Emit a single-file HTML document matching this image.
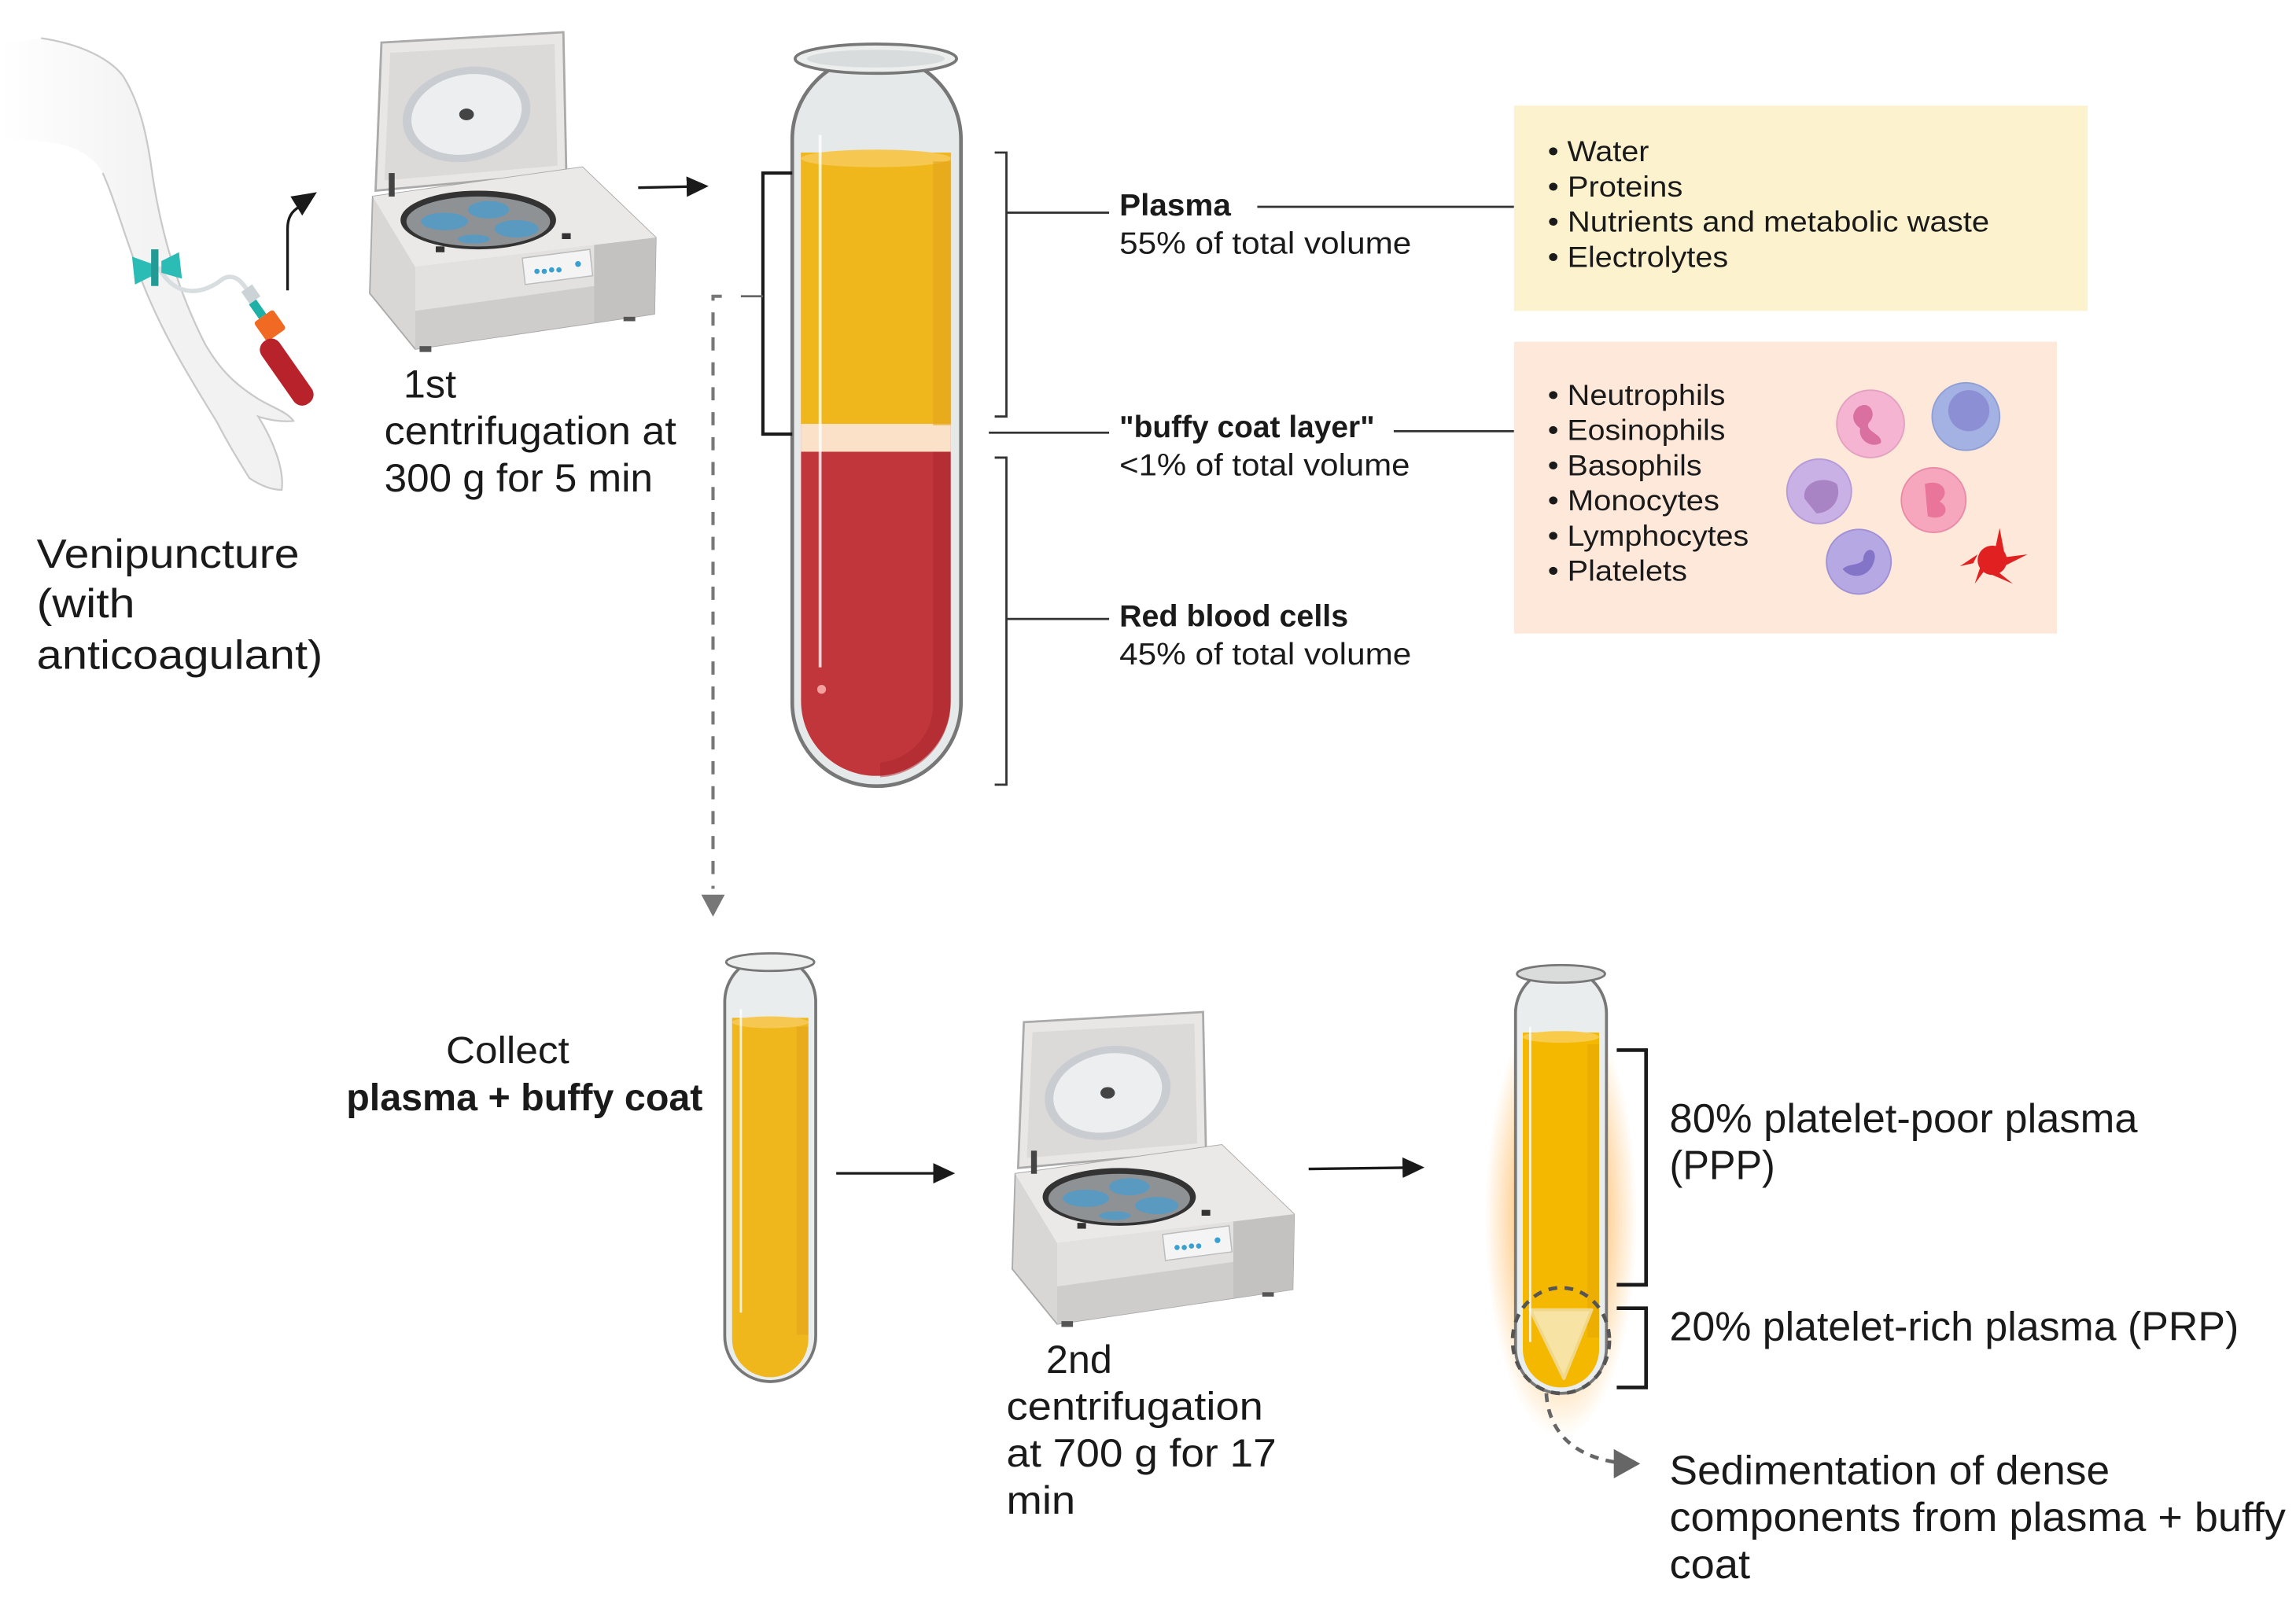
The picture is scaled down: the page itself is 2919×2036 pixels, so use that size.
<!DOCTYPE html>
<html><head><meta charset="utf-8"><style>
html,body{margin:0;padding:0;background:#fff;}
svg{display:block;}
text{font-family:"Liberation Sans",Arial,sans-serif;fill:#1a1a1a;}
</style></head><body>
<svg width="2919" height="2036" viewBox="0 0 1565 1091.6" xmlns="http://www.w3.org/2000/svg">
<defs>
<linearGradient id="armfade" x1="0" x2="1" y1="0" y2="0">
<stop offset="0" stop-color="#fff"/><stop offset="0.5" stop-color="#f3f3f3"/><stop offset="1" stop-color="#f1f1f1"/></linearGradient>
<radialGradient id="glow" cx="0.5" cy="0.5" r="0.5">
<stop offset="0.55" stop-color="#ffa940" stop-opacity="0.6"/><stop offset="1" stop-color="#ffb347" stop-opacity="0"/></radialGradient>
<marker id="ah" markerWidth="16" markerHeight="14" refX="12" refY="7" orient="auto" markerUnits="userSpaceOnUse">
<path d="M0,0 L15,7 L0,14 z" fill="#1a1a1a"/></marker>
<marker id="ahg" markerWidth="20" markerHeight="20" refX="16" refY="10" orient="auto" markerUnits="userSpaceOnUse">
<path d="M0,0 L18,10 L0,20 z" fill="#666"/></marker>

<g id="cent">
 <polygon points="260,29 384,22 386,118 256,130" fill="#e9e7e6" stroke="#aaa" stroke-width="1.5"/>
 <polygon points="266,36 378,30 380,113 262,123" fill="#dcdad8"/>
 <ellipse cx="318" cy="78" rx="44" ry="32" transform="rotate(-12 318 78)" fill="#c9ccd0"/>
 <ellipse cx="318" cy="78" rx="38" ry="27" transform="rotate(-12 318 78)" fill="#eceef0"/>
 <ellipse cx="318" cy="78" rx="5" ry="4" fill="#444"/>
 <polygon points="254,134 397,114 447,162 446,214 283,238 252,200" fill="#d9d7d6" stroke="#aaa" stroke-width="1"/>
 <polygon points="254,134 397,114 447,162 283,182" fill="#ebe9e8"/>
 <polygon points="283,182 447,162 446,214 283,238" fill="#cfcdcc"/>
 <polygon points="283,182 405,167 405,195 283,212" fill="#e3e1e0"/>
 <polygon points="405,167 447,162 446,214 405,220" fill="#c4c2c1"/>
 <ellipse cx="326" cy="150" rx="53" ry="20" fill="#333"/>
 <ellipse cx="326" cy="151" rx="49" ry="17" fill="#8f9294"/>
 <ellipse cx="303" cy="151" rx="16" ry="6" fill="#5b9ac0"/>
 <ellipse cx="333" cy="143" rx="14" ry="6" fill="#5b9ac0"/>
 <ellipse cx="352" cy="156" rx="15" ry="6" fill="#5b9ac0"/>
 <ellipse cx="323" cy="163" rx="11" ry="3" fill="#5b9ac0"/>
 <polygon points="356,176 402,170 404,188 358,194" fill="#f4f4f4" stroke="#bbb" stroke-width="0.8"/>
 <circle cx="366" cy="185" r="1.8" fill="#3aa0d0"/><circle cx="371" cy="185" r="1.8" fill="#3aa0d0"/><circle cx="376" cy="184" r="1.8" fill="#3aa0d0"/><circle cx="381" cy="184" r="1.8" fill="#3aa0d0"/><circle cx="394" cy="180" r="2" fill="#3aa0d0"/>
 <rect x="297" y="168" width="6" height="4" fill="#333"/><rect x="383" y="159" width="6" height="4" fill="#333"/>
 <rect x="265" y="118" width="4" height="16" fill="#444"/>
 <rect x="286" y="236" width="8" height="4" fill="#555"/><rect x="425" y="216" width="8" height="3" fill="#555"/>
</g>
</defs>

<!-- Arm -->
<path d="M0,30 L28,26 C55,30 75,40 84,52 C95,70 100,90 104,120 C110,160 122,200 140,235 C150,252 160,262 176,272 C186,278 196,281 200,287 C192,288 182,286 176,284 C186,300 194,320 192,334 C184,334 176,330 170,326 C160,310 152,296 148,288 C132,262 112,230 98,195 C86,165 78,135 70,118 C60,100 40,95 0,95 Z" fill="url(#armfade)"/>
<path d="M28,26 C55,30 75,40 84,52 C95,70 100,90 104,120 C110,160 122,200 140,235 C150,252 160,262 176,272 C186,278 196,281 200,287 C192,288 182,286 176,284 C186,300 194,320 192,334 C184,334 176,330 170,326 C160,310 152,296 148,288 C132,262 112,230 98,195 C86,165 78,135 70,118" fill="none" stroke="#c9c9c9" stroke-width="1.2"/>
<path d="M108,182 C120,205 140,200 152,190 C160,186 165,192 170,200" fill="none" stroke="#d8dde0" stroke-width="3"/>
<polygon points="90,175 104,180 104,188 92,194" fill="#2bbdb5"/>
<polygon points="110,178 122,172 124,190 110,186" fill="#2bbdb5"/>
<rect x="103" y="170" width="5" height="25" fill="#239a95"/>
<rect x="166" y="196" width="9" height="10" fill="#ccd3d6" transform="rotate(-35 170 200)"/>
<rect x="172" y="205" width="6" height="12" fill="#1fb1a8" transform="rotate(-35 175 210)"/>
<rect x="176" y="214" width="16" height="16" rx="2" fill="#f06a24" transform="rotate(-35 184 222)"/>
<rect x="188" y="228" width="15" height="52" rx="7" fill="#b8232b" transform="rotate(-35 195 254)"/>
<path d="M196,198 L196,156 C196,148 199,144 204,141" fill="none" stroke="#1a1a1a" stroke-width="1.8"/>
<polygon points="198,134 216,131 206,147" fill="#1a1a1a"/>

<use href="#cent"/>
<line x1="435" y1="128" x2="480" y2="127" stroke="#1a1a1a" stroke-width="1.8" marker-end="url(#ah)"/>

<text x="275" y="271" font-size="27">1st</text>
<text x="262" y="303" font-size="27" textLength="199" lengthAdjust="spacingAndGlyphs">centrifugation at</text>
<text x="262" y="335" font-size="27" textLength="183" lengthAdjust="spacingAndGlyphs">300 g for 5 min</text>
<text x="25" y="387" font-size="28" textLength="179" lengthAdjust="spacingAndGlyphs">Venipuncture</text>
<text x="25" y="421" font-size="28" textLength="67" lengthAdjust="spacingAndGlyphs">(with</text>
<text x="25" y="456" font-size="28" textLength="195" lengthAdjust="spacingAndGlyphs">anticoagulant)</text>

<!-- Tube 1 -->
<rect x="540" y="38" width="115" height="498" rx="57" fill="#e6e9e9" stroke="#777" stroke-width="2.5"/>
<path d="M546,104 L648,104 L648,478 A51,51 0 0 1 546,478 Z" fill="#c1363b"/>
<rect x="546" y="104" width="102" height="186" fill="#efb71c"/>
<ellipse cx="597" cy="108" rx="51" ry="6" fill="#f7c851"/>
<rect x="546" y="289" width="102" height="19" fill="#fbe1c8"/>
<rect x="636" y="110" width="12" height="180" fill="#e2a41c" opacity="0.6"/>
<path d="M636,308 L648,308 L648,478 A51,51 0 0 1 600,530 L600,520 A40,40 0 0 0 636,478 Z" fill="#a9262d" opacity="0.5"/>
<ellipse cx="597" cy="40" rx="55" ry="10" fill="#eceeee" stroke="#777" stroke-width="2"/>
<ellipse cx="597" cy="40" rx="47" ry="6" fill="#d9dcdc"/>
<line x1="559" y1="92" x2="559" y2="455" stroke="#fff" stroke-width="2" opacity="0.8"/>
<circle cx="560" cy="470" r="3" fill="#f5a0a0"/>

<polyline points="540,118 520,118 520,296 540,296" fill="none" stroke="#1a1a1a" stroke-width="2.2"/>
<line x1="505" y1="202" x2="520" y2="202" stroke="#666" stroke-width="1.5"/>
<polyline points="492,202 486,202 486,606" fill="none" stroke="#777" stroke-width="2.2" stroke-dasharray="9,8"/>
<polygon points="478,610 494,610 486,625" fill="#777"/>

<polyline points="678,104 686,104 686,284 678,284" fill="none" stroke="#333" stroke-width="1.5"/>
<line x1="686" y1="145" x2="756" y2="145" stroke="#333" stroke-width="1.5"/>
<line x1="674" y1="295" x2="756" y2="295" stroke="#333" stroke-width="1.5"/>
<polyline points="678,312 686,312 686,535 678,535" fill="none" stroke="#333" stroke-width="1.5"/>
<line x1="686" y1="422" x2="756" y2="422" stroke="#333" stroke-width="1.5"/>

<text x="763" y="147" font-size="21" font-weight="bold" textLength="76" lengthAdjust="spacingAndGlyphs">Plasma</text>
<text x="763" y="173" font-size="21" fill="#333" textLength="199" lengthAdjust="spacingAndGlyphs">55% of total volume</text>
<text x="763" y="298" font-size="21" font-weight="bold" textLength="174" lengthAdjust="spacingAndGlyphs">"buffy coat layer"</text>
<text x="763" y="324" font-size="21" fill="#333" textLength="198" lengthAdjust="spacingAndGlyphs">&lt;1% of total volume</text>
<text x="763" y="427" font-size="21" font-weight="bold" textLength="156" lengthAdjust="spacingAndGlyphs">Red blood cells</text>
<text x="763" y="453" font-size="21" fill="#333" textLength="199" lengthAdjust="spacingAndGlyphs">45% of total volume</text>

<line x1="857" y1="141" x2="1032" y2="141" stroke="#333" stroke-width="1.5"/>
<line x1="950" y1="294" x2="1032" y2="294" stroke="#333" stroke-width="1.5"/>

<rect x="1032" y="72" width="391" height="140" fill="#fcf2cd"/>
<g font-size="20">
<text x="1055" y="110" textLength="69" lengthAdjust="spacingAndGlyphs">• Water</text>
<text x="1055" y="134" textLength="92" lengthAdjust="spacingAndGlyphs">• Proteins</text>
<text x="1055" y="158" textLength="301" lengthAdjust="spacingAndGlyphs">• Nutrients and metabolic waste</text>
<text x="1055" y="182" textLength="123" lengthAdjust="spacingAndGlyphs">• Electrolytes</text>
</g>
<rect x="1032" y="233" width="370" height="199" fill="#fde8da"/>
<g font-size="20">
<text x="1055" y="276" textLength="121" lengthAdjust="spacingAndGlyphs">• Neutrophils</text>
<text x="1055" y="300" textLength="121" lengthAdjust="spacingAndGlyphs">• Eosinophils</text>
<text x="1055" y="324" textLength="105" lengthAdjust="spacingAndGlyphs">• Basophils</text>
<text x="1055" y="348" textLength="117" lengthAdjust="spacingAndGlyphs">• Monocytes</text>
<text x="1055" y="372" textLength="137" lengthAdjust="spacingAndGlyphs">• Lymphocytes</text>
<text x="1055" y="396" textLength="95" lengthAdjust="spacingAndGlyphs">• Platelets</text>
</g>
<circle cx="1275" cy="289" r="23" fill="#f5b4d2" stroke="#e3a0c0"/>
<path d="M1266,278 C1274,272 1280,282 1274,288 C1270,294 1284,296 1282,302 C1276,306 1266,300 1268,292 C1262,288 1262,282 1266,278 Z" fill="#d9709f"/>
<circle cx="1340" cy="284" r="23" fill="#a4b2e3" stroke="#8f9fd6"/>
<circle cx="1342" cy="280" r="14" fill="#8d8fd4"/>
<circle cx="1240" cy="335" r="22" fill="#c9b1e6" stroke="#b49ad8"/>
<path d="M1230,340 C1228,328 1244,324 1252,330 C1256,340 1248,350 1238,350 Z" fill="#a984c4"/>
<circle cx="1318" cy="341" r="22" fill="#f6a7be" stroke="#eb8aa8"/>
<path d="M1312,330 C1324,326 1330,336 1322,342 C1330,346 1326,356 1314,352 Z" fill="#e9769a"/>
<circle cx="1267" cy="383" r="22" fill="#b6a8e3" stroke="#a090d6"/>
<path d="M1256,388 C1262,396 1276,394 1278,380 C1278,372 1270,374 1270,382 C1266,386 1260,384 1256,388 Z" fill="#8474c8"/>
<g fill="#e12121">
<circle cx="1358" cy="382" r="10"/>
<path d="M1345,384 L1336,386 L1348,378 Z"/><path d="M1360,374 L1363,360 L1366,376 Z"/><path d="M1366,380 L1382,378 L1366,386 Z"/><path d="M1362,390 L1372,398 L1358,392 Z"/><path d="M1352,390 L1346,398 L1350,386 Z"/>
</g>

<text x="304" y="725" font-size="26" textLength="84" lengthAdjust="spacingAndGlyphs">Collect</text>
<text x="236" y="757" font-size="26" font-weight="bold" textLength="243" lengthAdjust="spacingAndGlyphs">plasma + buffy coat</text>

<rect x="494" y="652" width="62" height="290" rx="31" fill="#eaeded" stroke="#777" stroke-width="2"/>
<path d="M499,694 L551,694 L551,913 A26,26 0 0 1 499,913 Z" fill="#efb71c"/>
<ellipse cx="525" cy="697" rx="26" ry="4" fill="#f7c851"/>
<rect x="543" y="700" width="8" height="210" fill="#e2a41c" opacity="0.6"/>
<ellipse cx="525" cy="656" rx="30" ry="6" fill="#eceeee" stroke="#777" stroke-width="1.5"/>
<line x1="505" y1="688" x2="505" y2="895" stroke="#fff" stroke-width="1.5" opacity="0.8"/>
<line x1="570" y1="800" x2="648" y2="800" stroke="#1a1a1a" stroke-width="1.8" marker-end="url(#ah)"/>

<use href="#cent" transform="translate(690,690) scale(0.985) translate(-252,-22)"/>
<line x1="892" y1="797" x2="968" y2="796" stroke="#1a1a1a" stroke-width="1.8" marker-end="url(#ah)"/>

<text x="713" y="936" font-size="27">2nd</text>
<text x="686" y="968" font-size="27" textLength="175" lengthAdjust="spacingAndGlyphs">centrifugation</text>
<text x="686" y="1000" font-size="27" textLength="184" lengthAdjust="spacingAndGlyphs">at 700 g for 17</text>
<text x="686" y="1032" font-size="27" textLength="47" lengthAdjust="spacingAndGlyphs">min</text>

<rect x="1012" y="680" width="104" height="300" rx="52" fill="url(#glow)"/>
<rect x="1033" y="660" width="62" height="290" rx="31" fill="#eaeded" stroke="#777" stroke-width="2"/>
<path d="M1038,704 L1090,704 L1090,920 A26,26 0 0 1 1038,920 Z" fill="#f5b800"/>
<ellipse cx="1064" cy="707" rx="26" ry="4" fill="#f8cb4b"/>
<rect x="1082" y="712" width="8" height="200" fill="#e6a700" opacity="0.6"/>
<polygon points="1043,893 1085,893 1066,940" fill="#f7e3a4" stroke="#f1d888" stroke-width="2" stroke-linejoin="round"/>
<ellipse cx="1064" cy="664" rx="30" ry="6" fill="#dadcdc" stroke="#777" stroke-width="1.5"/>
<line x1="1043" y1="700" x2="1043" y2="915" stroke="#fff" stroke-width="1.5" opacity="0.8"/>
<ellipse cx="1064" cy="914" rx="33" ry="36" fill="none" stroke="#555" stroke-width="2.5" stroke-dasharray="6,5"/>

<polyline points="1102,716 1122,716 1122,876 1102,876" fill="none" stroke="#1a1a1a" stroke-width="2.5"/>
<polyline points="1102,892 1122,892 1122,946 1102,946" fill="none" stroke="#1a1a1a" stroke-width="2.5"/>

<path d="M1054,950 C1056,985 1085,998 1116,998" fill="none" stroke="#666" stroke-width="2.5" stroke-dasharray="6,5" marker-end="url(#ahg)"/>

<text x="1138" y="772" font-size="28" textLength="319" lengthAdjust="spacingAndGlyphs">80% platelet-poor plasma</text>
<text x="1138" y="804" font-size="28" textLength="72" lengthAdjust="spacingAndGlyphs">(PPP)</text>
<text x="1138" y="914" font-size="28" textLength="388" lengthAdjust="spacingAndGlyphs">20% platelet-rich plasma (PRP)</text>
<text x="1138" y="1012" font-size="28" textLength="300" lengthAdjust="spacingAndGlyphs">Sedimentation of dense</text>
<text x="1138" y="1044" font-size="28" textLength="420" lengthAdjust="spacingAndGlyphs">components from plasma + buffy</text>
<text x="1138" y="1076" font-size="28" textLength="55" lengthAdjust="spacingAndGlyphs">coat</text>
</svg>
</body></html>
